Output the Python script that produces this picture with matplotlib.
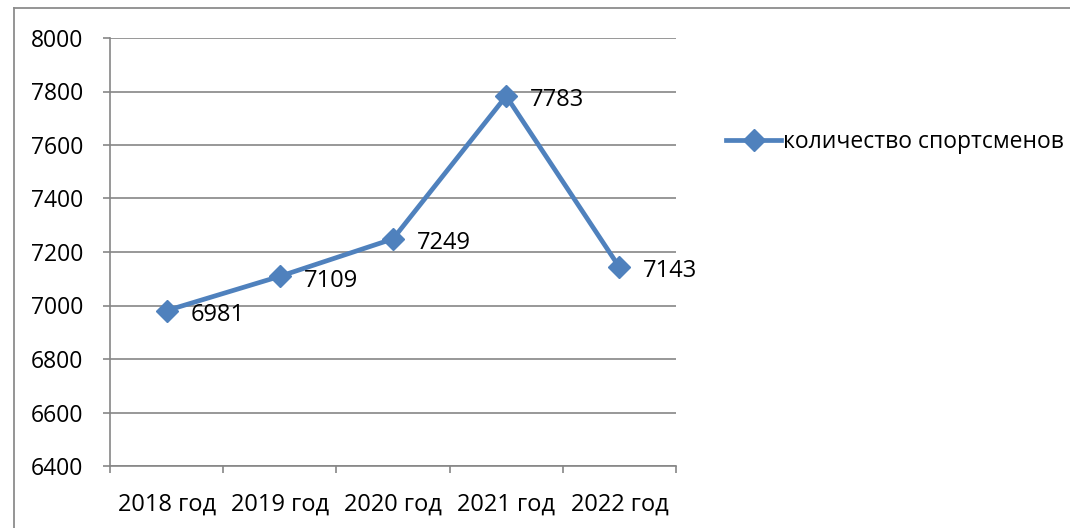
import matplotlib
matplotlib.use("Agg")
import matplotlib.pyplot as plt
from matplotlib.lines import Line2D

categories = ["2018 год", "2019 год", "2020 год", "2021 год", "2022 год"]
values = [6981, 7109, 7249, 7783, 7143]
series_name = "количество спортсменов"
yticks = [6400, 6600, 6800, 7000, 7200, 7400, 7600, 7800, 8000]

plt.rcParams['font.family'] = ['Open Sans', 'DejaVu Sans']
color = "#4F81BD"
gray = "#868686"
fs = 17

fig = plt.figure(figsize=(10.7, 5.28), dpi=100)
# outer chart border (left and top visible)
fig.add_artist(Line2D([14/1070, 14/1070], [0, 1 - 8/528], transform=fig.transFigure, color="#8c8c8c", lw=1.3))
fig.add_artist(Line2D([14/1070, 1], [1 - 8/528, 1 - 8/528], transform=fig.transFigure, color="#8c8c8c", lw=1.3))

ax = fig.add_axes([110/1070, 62/528, 566/1070, 428/528])
x = list(range(len(categories)))
ax.plot(x, values, color=color, lw=3.4, marker='D', markersize=11, zorder=3, label=series_name,
        solid_joinstyle='round')
for xi, v in zip(x, values):
    ax.annotate(str(v), (xi, v), xytext=(17, -3), textcoords='offset points',
                ha='left', va='center', fontsize=fs, color='black', zorder=4)

ax.set_xlim(-0.5, len(categories) - 0.5)
ax.set_ylim(yticks[0], yticks[-1])
ax.set_yticks(yticks)
ax.set_yticklabels([str(t) for t in yticks], fontsize=16.5)
ax.set_xticks(x)
ax.set_xticklabels(categories, fontsize=fs)
ax.set_xticks([i - 0.5 for i in range(len(categories) + 1)], minor=True)
ax.tick_params(axis='x', which='major', length=0, pad=19)
ax.tick_params(axis='x', which='minor', length=5, color=gray, width=1.2, direction='out')
ax.tick_params(axis='y', length=5, color=gray, width=1.2, direction='out', pad=14)
ax.grid(axis='y', color=gray, lw=1.2)
ax.set_axisbelow(True)
for s in ['top', 'right']:
    ax.spines[s].set_visible(False)
for s in ['left', 'bottom']:
    ax.spines[s].set_color(gray)
    ax.spines[s].set_linewidth(1.2)

leg = fig.legend(loc='center left', bbox_to_anchor=(717/1070, 1 - 142/528), frameon=False,
                 fontsize=16.5, handlelength=2.4, handletextpad=0.1, borderaxespad=0)

fig.savefig("out.png", dpi=100)
